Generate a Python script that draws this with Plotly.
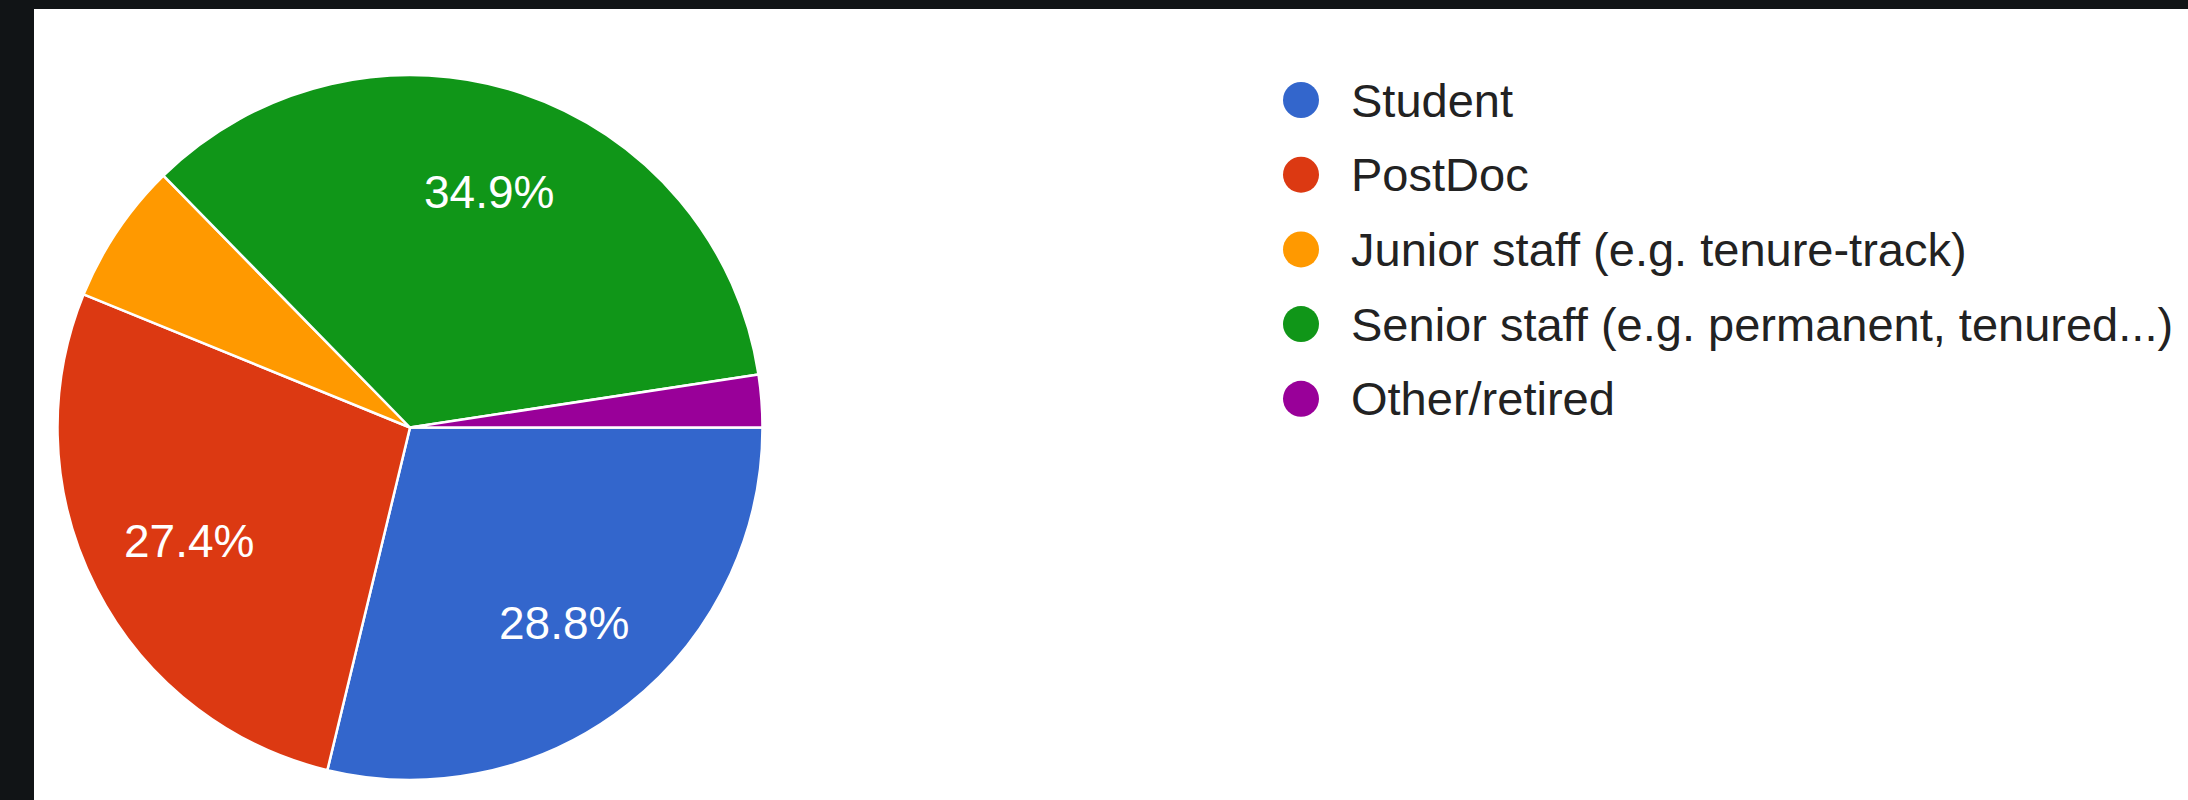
import math
import plotly.graph_objects as go

categories = ["Student", "PostDoc", "Junior staff (e.g. tenure-track)",
              "Senior staff (e.g. permanent, tenured...)", "Other/retired"]
counts = [84, 80, 19, 102, 7]
colors = ["#3366CC", "#DC3912", "#FF9900", "#109618", "#990099"]

W, H = 2188, 800
cx, cy, R = 410, 427.5, 352.5
start_deg = 90  # first slice starts at 3 o'clock, clockwise
FONT = "Arial, Liberation Sans, sans-serif"

total = sum(counts)

fig = go.Figure()
fig.add_trace(go.Pie(
    labels=categories, values=counts, sort=False, direction="clockwise", rotation=start_deg,
    marker=dict(colors=colors, line=dict(color="white", width=2.5)),
    textinfo="none",
    domain=dict(x=[(cx - R) / W, (cx + R) / W], y=[(H - cy - R) / H, (H - cy + R) / H]),
    showlegend=False, hoverinfo="label+percent",
))

shapes = [dict(type="rect", xref="paper", yref="paper", x0=34 / W, x1=1.01, y0=-0.01, y1=1 - 9 / H,
               fillcolor="white", line=dict(width=0), layer="below")]
annotations = []

# percentage labels inside the larger slices
acc = 0
for c in counts:
    frac = c / total
    mid = math.radians(start_deg + (acc + frac / 2) * 360)
    acc += frac
    if frac < 0.1:
        continue
    rr = 0.705 * R
    px = cx + rr * math.sin(mid)
    py = cy - rr * math.cos(mid)
    annotations.append(dict(text=f"{frac * 100:.1f}%", xref="paper", yref="paper",
                            x=px / W, y=1 - py / H, xanchor="center", yanchor="middle",
                            showarrow=False, font=dict(family=FONT, size=46, color="white")))

# legend
lx_circle, lx_text, ly0, dy, r = 1301, 1349, 100, 74.7, 18
for i, (name, col) in enumerate(zip(categories, colors)):
    yc = ly0 + i * dy
    shapes.append(dict(type="circle", xref="paper", yref="paper",
                       x0=(lx_circle - r) / W, x1=(lx_circle + r) / W,
                       y0=1 - (yc + r) / H, y1=1 - (yc - r) / H,
                       fillcolor=col, line=dict(width=0)))
    annotations.append(dict(text=name, xref="paper", yref="paper", x=lx_text / W, y=1 - yc / H,
                            xanchor="left", yanchor="middle", showarrow=False,
                            font=dict(family=FONT, size=47, color="#222222")))

fig.update_layout(width=W, height=H, margin=dict(l=0, r=0, t=0, b=0),
                  paper_bgcolor="#111416", shapes=shapes, annotations=annotations)
fig.write_html("out.html", config={"displayModeBar": False},
               post_script="document.body.style.margin='0';document.body.style.overflow='hidden';")
